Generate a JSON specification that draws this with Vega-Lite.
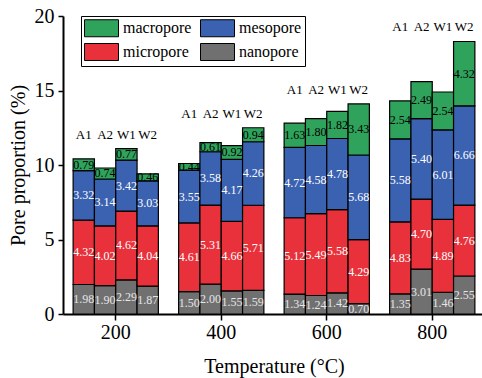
{
  "$schema": "https://vega.github.io/schema/vega-lite/v6.json",
  "width": 419,
  "height": 298,
  "autosize": {"type": "none"},
  "padding": {"left": 63, "top": 16, "right": 0, "bottom": 64},
  "background": "white",
  "config": {
    "view": {"stroke": null},
    "font": "Times New Roman, Liberation Serif, Times, serif",
    "text": {"font": "Times New Roman, Liberation Serif, Times, serif"},
    "legend": {"labelFont": "Times New Roman, Liberation Serif, Times, serif"},
    "axis": {"labelFont": "Times New Roman, Liberation Serif, Times, serif", "titleFont": "Times New Roman, Liberation Serif, Times, serif", "labelColor": "black", "titleColor": "black", "domainColor": "black", "tickColor": "black", "titleFontWeight": "normal", "grid": false}
  },
  "data": {"values": [
    {"temp": "200", "sample": "A1", "type": "nanopore", "value": 1.98},
    {"temp": "200", "sample": "A1", "type": "micropore", "value": 4.32},
    {"temp": "200", "sample": "A1", "type": "mesopore", "value": 3.32},
    {"temp": "200", "sample": "A1", "type": "macropore", "value": 0.79},
    {"temp": "200", "sample": "A2", "type": "nanopore", "value": 1.90},
    {"temp": "200", "sample": "A2", "type": "micropore", "value": 4.02},
    {"temp": "200", "sample": "A2", "type": "mesopore", "value": 3.14},
    {"temp": "200", "sample": "A2", "type": "macropore", "value": 0.74},
    {"temp": "200", "sample": "W1", "type": "nanopore", "value": 2.29},
    {"temp": "200", "sample": "W1", "type": "micropore", "value": 4.62},
    {"temp": "200", "sample": "W1", "type": "mesopore", "value": 3.42},
    {"temp": "200", "sample": "W1", "type": "macropore", "value": 0.77},
    {"temp": "200", "sample": "W2", "type": "nanopore", "value": 1.87},
    {"temp": "200", "sample": "W2", "type": "micropore", "value": 4.04},
    {"temp": "200", "sample": "W2", "type": "mesopore", "value": 3.03},
    {"temp": "200", "sample": "W2", "type": "macropore", "value": 0.46},
    {"temp": "400", "sample": "A1", "type": "nanopore", "value": 1.50},
    {"temp": "400", "sample": "A1", "type": "micropore", "value": 4.61},
    {"temp": "400", "sample": "A1", "type": "mesopore", "value": 3.55},
    {"temp": "400", "sample": "A1", "type": "macropore", "value": 0.44},
    {"temp": "400", "sample": "A2", "type": "nanopore", "value": 2.00},
    {"temp": "400", "sample": "A2", "type": "micropore", "value": 5.31},
    {"temp": "400", "sample": "A2", "type": "mesopore", "value": 3.58},
    {"temp": "400", "sample": "A2", "type": "macropore", "value": 0.61},
    {"temp": "400", "sample": "W1", "type": "nanopore", "value": 1.55},
    {"temp": "400", "sample": "W1", "type": "micropore", "value": 4.66},
    {"temp": "400", "sample": "W1", "type": "mesopore", "value": 4.17},
    {"temp": "400", "sample": "W1", "type": "macropore", "value": 0.92},
    {"temp": "400", "sample": "W2", "type": "nanopore", "value": 1.59},
    {"temp": "400", "sample": "W2", "type": "micropore", "value": 5.71},
    {"temp": "400", "sample": "W2", "type": "mesopore", "value": 4.26},
    {"temp": "400", "sample": "W2", "type": "macropore", "value": 0.94},
    {"temp": "600", "sample": "A1", "type": "nanopore", "value": 1.34},
    {"temp": "600", "sample": "A1", "type": "micropore", "value": 5.12},
    {"temp": "600", "sample": "A1", "type": "mesopore", "value": 4.72},
    {"temp": "600", "sample": "A1", "type": "macropore", "value": 1.63},
    {"temp": "600", "sample": "A2", "type": "nanopore", "value": 1.24},
    {"temp": "600", "sample": "A2", "type": "micropore", "value": 5.49},
    {"temp": "600", "sample": "A2", "type": "mesopore", "value": 4.58},
    {"temp": "600", "sample": "A2", "type": "macropore", "value": 1.80},
    {"temp": "600", "sample": "W1", "type": "nanopore", "value": 1.42},
    {"temp": "600", "sample": "W1", "type": "micropore", "value": 5.58},
    {"temp": "600", "sample": "W1", "type": "mesopore", "value": 4.78},
    {"temp": "600", "sample": "W1", "type": "macropore", "value": 1.82},
    {"temp": "600", "sample": "W2", "type": "nanopore", "value": 0.70},
    {"temp": "600", "sample": "W2", "type": "micropore", "value": 4.29},
    {"temp": "600", "sample": "W2", "type": "mesopore", "value": 5.68},
    {"temp": "600", "sample": "W2", "type": "macropore", "value": 3.43},
    {"temp": "800", "sample": "A1", "type": "nanopore", "value": 1.35},
    {"temp": "800", "sample": "A1", "type": "micropore", "value": 4.83},
    {"temp": "800", "sample": "A1", "type": "mesopore", "value": 5.58},
    {"temp": "800", "sample": "A1", "type": "macropore", "value": 2.54},
    {"temp": "800", "sample": "A2", "type": "nanopore", "value": 3.01},
    {"temp": "800", "sample": "A2", "type": "micropore", "value": 4.70},
    {"temp": "800", "sample": "A2", "type": "mesopore", "value": 5.40},
    {"temp": "800", "sample": "A2", "type": "macropore", "value": 2.49},
    {"temp": "800", "sample": "W1", "type": "nanopore", "value": 1.46},
    {"temp": "800", "sample": "W1", "type": "micropore", "value": 4.89},
    {"temp": "800", "sample": "W1", "type": "mesopore", "value": 6.01},
    {"temp": "800", "sample": "W1", "type": "macropore", "value": 2.54},
    {"temp": "800", "sample": "W2", "type": "nanopore", "value": 2.55},
    {"temp": "800", "sample": "W2", "type": "micropore", "value": 4.76},
    {"temp": "800", "sample": "W2", "type": "mesopore", "value": 6.66},
    {"temp": "800", "sample": "W2", "type": "macropore", "value": 4.32}
  ]},
  "encoding": {
    "x": {
      "field": "temp", "type": "nominal",
      "scale": {"domain": ["200", "400", "600", "800"], "range": [0, 422], "paddingInner": 0, "paddingOuter": 0},
      "axis": {"title": "Temperature (°C)", "labelAngle": 0, "labelFontSize": 20, "titleFontSize": 20, "tickSize": 6, "tickWidth": 1.5, "domainWidth": 2, "labelPadding": 2, "titlePadding": 14}
    },
    "xOffset": {
      "field": "sample", "type": "nominal",
      "scale": {"domain": ["A1", "A2", "W1", "W2"], "paddingInner": 0, "paddingOuter": 0.475}
    }
  },
  "layer": [
    {
      "transform": [
        {"stack": "value", "groupby": ["temp", "sample"], "sort": [{"field": "type", "order": "descending"}], "as": ["y0", "y1"]}
      ],
      "mark": {"type": "bar", "stroke": "black", "strokeWidth": 1.2},
      "encoding": {
        "y": {
          "field": "y0", "type": "quantitative",
          "scale": {"domain": [0, 20]},
          "axis": {
            "title": "Pore proportion (%)", "titleFontSize": 20, "labelFontSize": 20,
            "values": [0, 2.5, 5, 7.5, 10, 12.5, 15, 17.5, 20],
            "labelExpr": "datum.value % 5 === 0 ? datum.label : ''",
            "tickSize": {"condition": {"test": "datum.value % 5 === 0", "value": 5}, "value": 2.5},
            "tickWidth": 1.5, "domainWidth": 2, "labelPadding": 4, "titlePadding": 6
          }
        },
        "y2": {"field": "y1"},
        "color": {
          "field": "type", "type": "nominal",
          "scale": {"domain": ["macropore", "mesopore", "micropore", "nanopore"], "range": ["#2fa35b", "#3a62b1", "#e8313a", "#707070"]},
          "legend": {
            "title": null, "orient": "none", "legendX": 18, "legendY": 0,
            "direction": "horizontal", "columns": 2,
            "fillColor": "white", "strokeColor": "black", "padding": 3,
            "symbolType": "M-1,-1H3V1H-1Z", "symbolSize": 289,
            "symbolStrokeColor": "black", "symbolStrokeWidth": 1, "symbolOpacity": 1,
            "labelFontSize": 16, "labelColor": "black",
            "labelOffset": 21, "columnPadding": 6, "rowPadding": 2
          }
        }
      }
    },
    {
      "transform": [
        {"stack": "value", "groupby": ["temp", "sample"], "sort": [{"field": "type", "order": "descending"}], "as": ["y0", "y1"]},
        {"calculate": "(datum.y0 + datum.y1) / 2", "as": "mid"}
      ],
      "mark": {"type": "text", "fontSize": 12, "baseline": "middle", "align": "center"},
      "encoding": {
        "y": {"field": "mid", "type": "quantitative"},
        "text": {"field": "value", "type": "quantitative", "format": ".2f"},
        "color": {
          "condition": [
            {"test": "datum.type === 'macropore'", "value": "black"},
            {"test": "datum.type === 'nanopore'", "value": "#e6e6e6"}
          ],
          "value": "white"
        }
      }
    },
    {
      "transform": [
        {"aggregate": [{"op": "sum", "field": "value", "as": "total"}], "groupby": ["temp", "sample"]},
        {"joinaggregate": [{"op": "max", "field": "total", "as": "gmax"}], "groupby": ["temp"]}
      ],
      "mark": {"type": "text", "fontSize": 13, "baseline": "middle", "align": "center", "dy": -14, "color": "black"},
      "encoding": {
        "y": {"field": "gmax", "type": "quantitative"},
        "text": {"field": "sample", "type": "nominal"}
      }
    }
  ]
}
